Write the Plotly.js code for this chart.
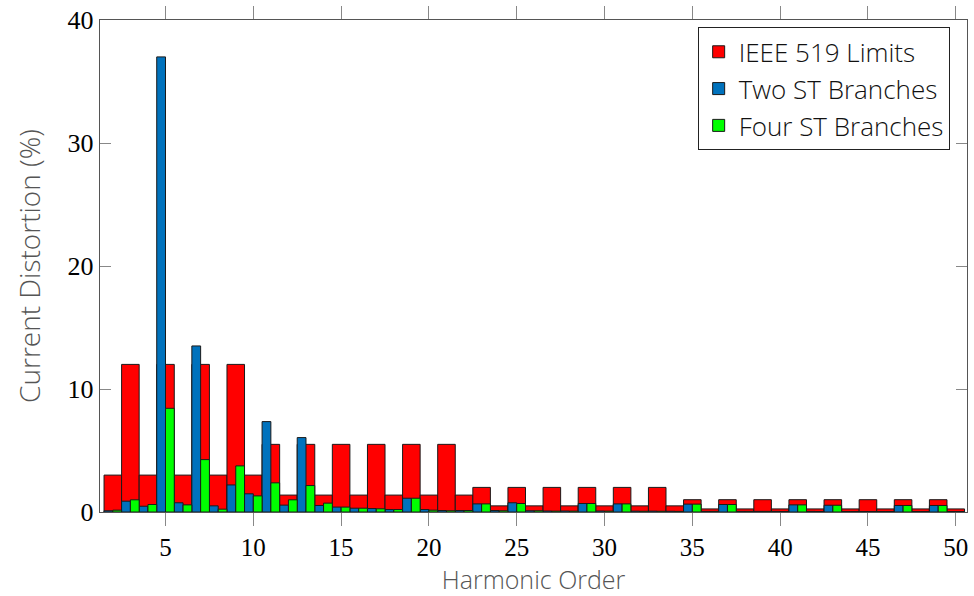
<!DOCTYPE html>
<html>
<head>
<meta charset="utf-8">
<script src="https://cdn.plot.ly/plotly-3.0.1.min.js"></script>
<style>html,body{margin:0;padding:0;background:#fff;}#chart{width:974px;height:596px;}</style>
</head>
<body>
<div id="chart"></div>
<script>
const harmonics = [2,3,4,5,6,7,8,9,10,11,12,13,14,15,16,17,18,19,20,21,22,23,24,25,26,27,28,29,30,31,32,33,34,35,36,37,38,39,40,41,42,43,44,45,46,47,48,49,50];
const ieeeLimits = [3,12,3,12,3,12,3,12,3,5.5,1.375,5.5,1.375,5.5,1.375,5.5,1.375,5.5,1.375,5.5,1.375,2,0.5,2,0.5,2,0.5,2,0.5,2,0.5,2,0.5,1,0.25,1,0.25,1,0.25,1,0.25,1,0.25,1,0.25,1,0.25,1,0.25];
const twoST = [0.1,0.88,0.47,37,0.75,13.5,0.5,2.2,1.48,7.35,0.56,6.05,0.53,0.4,0.31,0.28,0.2,1.12,0.2,0.12,0.12,0.66,0.12,0.75,0.1,0.08,0.08,0.69,0.08,0.66,0.07,0.07,0.06,0.64,0.05,0.61,0.05,0.05,0.05,0.58,0.05,0.55,0.04,0.04,0.04,0.53,0.04,0.53,0.04];
const fourST = [0.15,0.99,0.61,8.43,0.58,4.26,0.23,3.75,1.31,2.37,0.99,2.15,0.72,0.4,0.31,0.26,0.2,1.12,0.15,0.1,0.12,0.66,0.1,0.69,0.1,0.07,0.07,0.69,0.07,0.66,0.06,0.06,0.05,0.64,0.05,0.61,0.05,0.05,0.04,0.58,0.04,0.55,0.04,0.04,0.04,0.53,0.04,0.53,0.04];
const seriesNames = ["IEEE 519 Limits","Two ST Branches","Four ST Branches"];
const xTicks = [5,10,15,20,25,30,35,40,45,50];
const yTicks = [0,10,20,30,40];

const edge = {color:'#1a1a1a', width:1};
const traces = [
  {type:'bar', name:seriesNames[0], x:harmonics, y:ieeeLimits, width:1, offset:-0.5,
   marker:{color:'#ff0000', line:edge}},
  {type:'bar', name:seriesNames[1], x:harmonics, y:twoST, width:0.5, offset:-0.5,
   marker:{color:'#0072bd', line:edge}},
  {type:'bar', name:seriesNames[2], x:harmonics, y:fourST, width:0.5, offset:0,
   marker:{color:'#00ff00', line:edge}}
];

const layout = {
  width:974, height:596,
  margin:{l:100, r:7, t:20, b:84},
  paper_bgcolor:'#fff', plot_bgcolor:'#fff',
  barmode:'overlay',
  showlegend:true,
  legend:{x:0.98, xanchor:'right', y:0.985, yanchor:'top',
    bordercolor:'#222', borderwidth:1, bgcolor:'#fff',
    font:{family:'Open Sans, sans-serif', size:26, color:'#111', weight:300},
    tracegroupgap:0, itemwidth:30},
  xaxis:{range:[1.27,50.64], tickvals:xTicks, ticktext:xTicks.map(String),
    ticks:'outside', ticklen:13, tickcolor:'#888', tickwidth:1,
    showline:true, linecolor:'#555', linewidth:1.3, mirror:'ticks',
    showgrid:false, zeroline:false,
    tickfont:{family:'Liberation Serif, serif', size:25, color:'#000'},
    title:{text:'Harmonic Order', standoff:16,
      font:{family:'Open Sans, sans-serif', size:25, color:'#555', weight:300}}},
  yaxis:{range:[0,40], tickvals:yTicks, ticktext:yTicks.map(String),
    ticks:'inside', ticklen:11, tickcolor:'#888', tickwidth:1,
    showline:true, linecolor:'#555', linewidth:1.3, mirror:'ticks',
    showgrid:false, zeroline:false,
    tickfont:{family:'Liberation Serif, serif', size:26, color:'#000'},
    title:{text:'Current Distortion (%)', standoff:18,
      font:{family:'Open Sans, sans-serif', size:28, color:'#555', weight:300}}}
};

Plotly.newPlot('chart', traces, layout, {displayModeBar:false, staticPlot:true});
</script>
</body>
</html>
